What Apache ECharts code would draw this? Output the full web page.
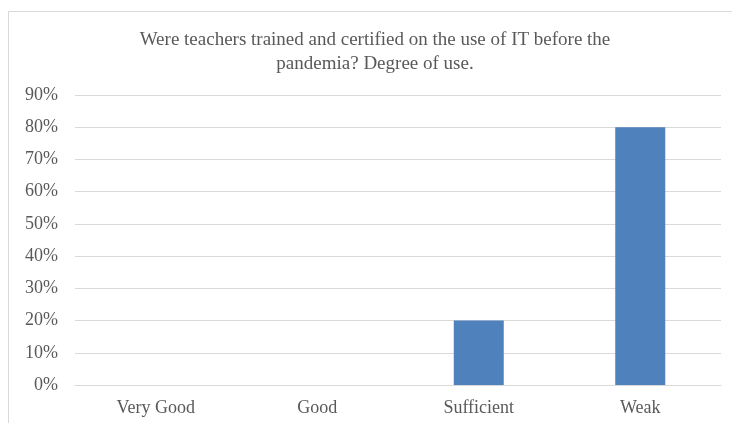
<!DOCTYPE html>
<html>
<head>
<meta charset="utf-8">
<script src="https://cdn.jsdelivr.net/npm/echarts@6/dist/echarts.min.js"></script>
<style>
  html, body { margin: 0; padding: 0; background: #fff; }
  #main { width: 732px; height: 423px; }
</style>
</head>
<body>
<div id="main"></div>
<script>
var categories = ['Very Good', 'Good', 'Sufficient', 'Weak'];
var values = [0, 0, 20, 80];
var titleText = 'Were teachers trained and certified on the use of IT before the\npandemia? Degree of use.';

var serif = '"Liberation Serif", "DejaVu Serif", serif';
var chart = echarts.init(document.getElementById('main'));
chart.setOption({
  animation: false,
  graphic: [{
    type: 'rect',
    shape: { x: 8.5, y: 11.5, width: 740, height: 430 },
    style: { fill: 'none', stroke: '#d9d9d9', lineWidth: 1 },
    silent: true
  }],
  title: {
    text: titleText,
    left: 370,
    top: 23,
    textAlign: 'center',
    textStyle: {
      fontFamily: serif,
      fontSize: 19,
      fontWeight: 'normal',
      color: '#595959',
      lineHeight: 24
    }
  },
  grid: { left: 75, right: 11, top: 95, bottom: 38 },
  xAxis: {
    type: 'category',
    data: categories,
    axisLine: { show: true, lineStyle: { color: '#d9d9d9' } },
    axisTick: { show: false },
    axisLabel: { color: '#595959', fontFamily: serif, fontSize: 18, margin: 14 }
  },
  yAxis: {
    type: 'value',
    min: 0,
    max: 90,
    interval: 10,
    axisLine: { show: false },
    axisTick: { show: false },
    splitLine: { lineStyle: { color: '#d9d9d9' } },
    axisLabel: {
      color: '#595959', fontFamily: serif, fontSize: 18, margin: 17,
      formatter: function (v) { return v + '%'; }
    }
  },
  series: [{
    type: 'bar',
    data: values,
    barWidth: 50,
    itemStyle: { color: '#4f81bd' }
  }]
});
</script>
</body>
</html>
